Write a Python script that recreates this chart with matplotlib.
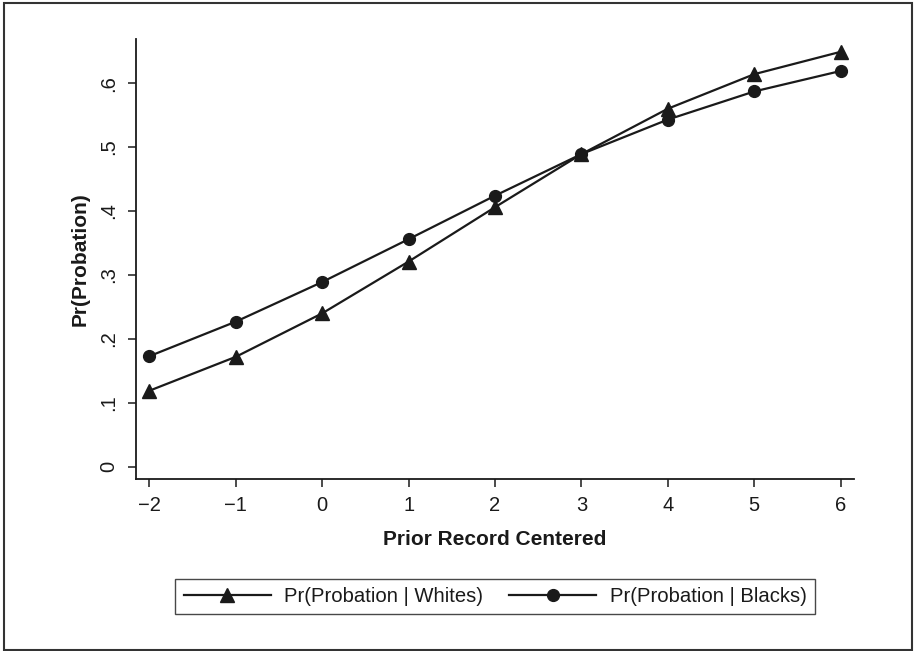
import matplotlib
matplotlib.use("Agg")
import matplotlib.pyplot as plt
from matplotlib.patches import Rectangle

prior_record = [-2, -1, 0, 1, 2, 3, 4, 5, 6]
pr_whites = [0.119, 0.172, 0.240, 0.321, 0.406, 0.489, 0.560, 0.614, 0.649]
pr_blacks = [0.173, 0.227, 0.289, 0.356, 0.424, 0.489, 0.543, 0.587, 0.619]
y_ticks = [0, 0.1, 0.2, 0.3, 0.4, 0.5, 0.6]
y_tick_labels = ["0", ".1", ".2", ".3", ".4", ".5", ".6"]
x_ticks = [-2, -1, 0, 1, 2, 3, 4, 5, 6]
x_tick_labels = ["\u22122", "\u22121", "0", "1", "2", "3", "4", "5", "6"]

plt.rcParams['font.family'] = ['Liberation Sans', 'DejaVu Sans']

W, H = 914, 651
fig = plt.figure(figsize=(W / 100, H / 100), dpi=100)
ax = fig.add_axes([136 / W, (H - 479) / H, (854 - 136) / W, (479 - 39) / H])

c = '#1a1a1a'
ax.plot(prior_record, pr_whites, color=c, lw=1.6, marker='^', ms=10,
        label='Pr(Probation | Whites)')
ax.plot(prior_record, pr_blacks, color=c, lw=1.6, marker='o', ms=8.5,
        label='Pr(Probation | Blacks)')

ax.set_xlim(-2.154, 6.154)
ax.set_ylim(-0.019, 0.669)
ax.set_xticks(x_ticks)
ax.set_xticklabels(x_tick_labels)
ax.set_yticks(y_ticks)
ax.set_yticklabels(y_tick_labels, rotation=90, va='center')
for s in ['top', 'right']:
    ax.spines[s].set_visible(False)
for s in ['left', 'bottom']:
    ax.spines[s].set_linewidth(1.3)
    ax.spines[s].set_color(c)
ax.tick_params(axis='both', length=6, width=1.1, color=c, labelsize=14.5,
               labelcolor=c)
ax.tick_params(axis='x', pad=6)
ax.tick_params(axis='y', pad=7)

ax.set_xlabel('Prior Record Centered', fontsize=15, fontweight='bold',
              color=c, labelpad=11)
ax.set_ylabel('Pr(Probation)', fontsize=15, fontweight='bold', color=c,
              labelpad=7)

leg = fig.legend(loc='center', bbox_to_anchor=(495 / W, 1 - 596.5 / H),
                 ncol=2, frameon=True, fancybox=False, edgecolor=c,
                 fontsize=14.6, handlelength=4.3, handletextpad=0.65,
                 columnspacing=1.3, borderpad=0.4, borderaxespad=0)
leg.get_frame().set_linewidth(1.0)
for t in leg.get_texts():
    t.set_color(c)

fig.patches.append(Rectangle((4 / W, 1 / H), (W - 6) / W, (H - 4) / H,
                             transform=fig.transFigure, fill=False,
                             edgecolor='#333333', lw=1.5))

fig.savefig('out.png', dpi=100)
